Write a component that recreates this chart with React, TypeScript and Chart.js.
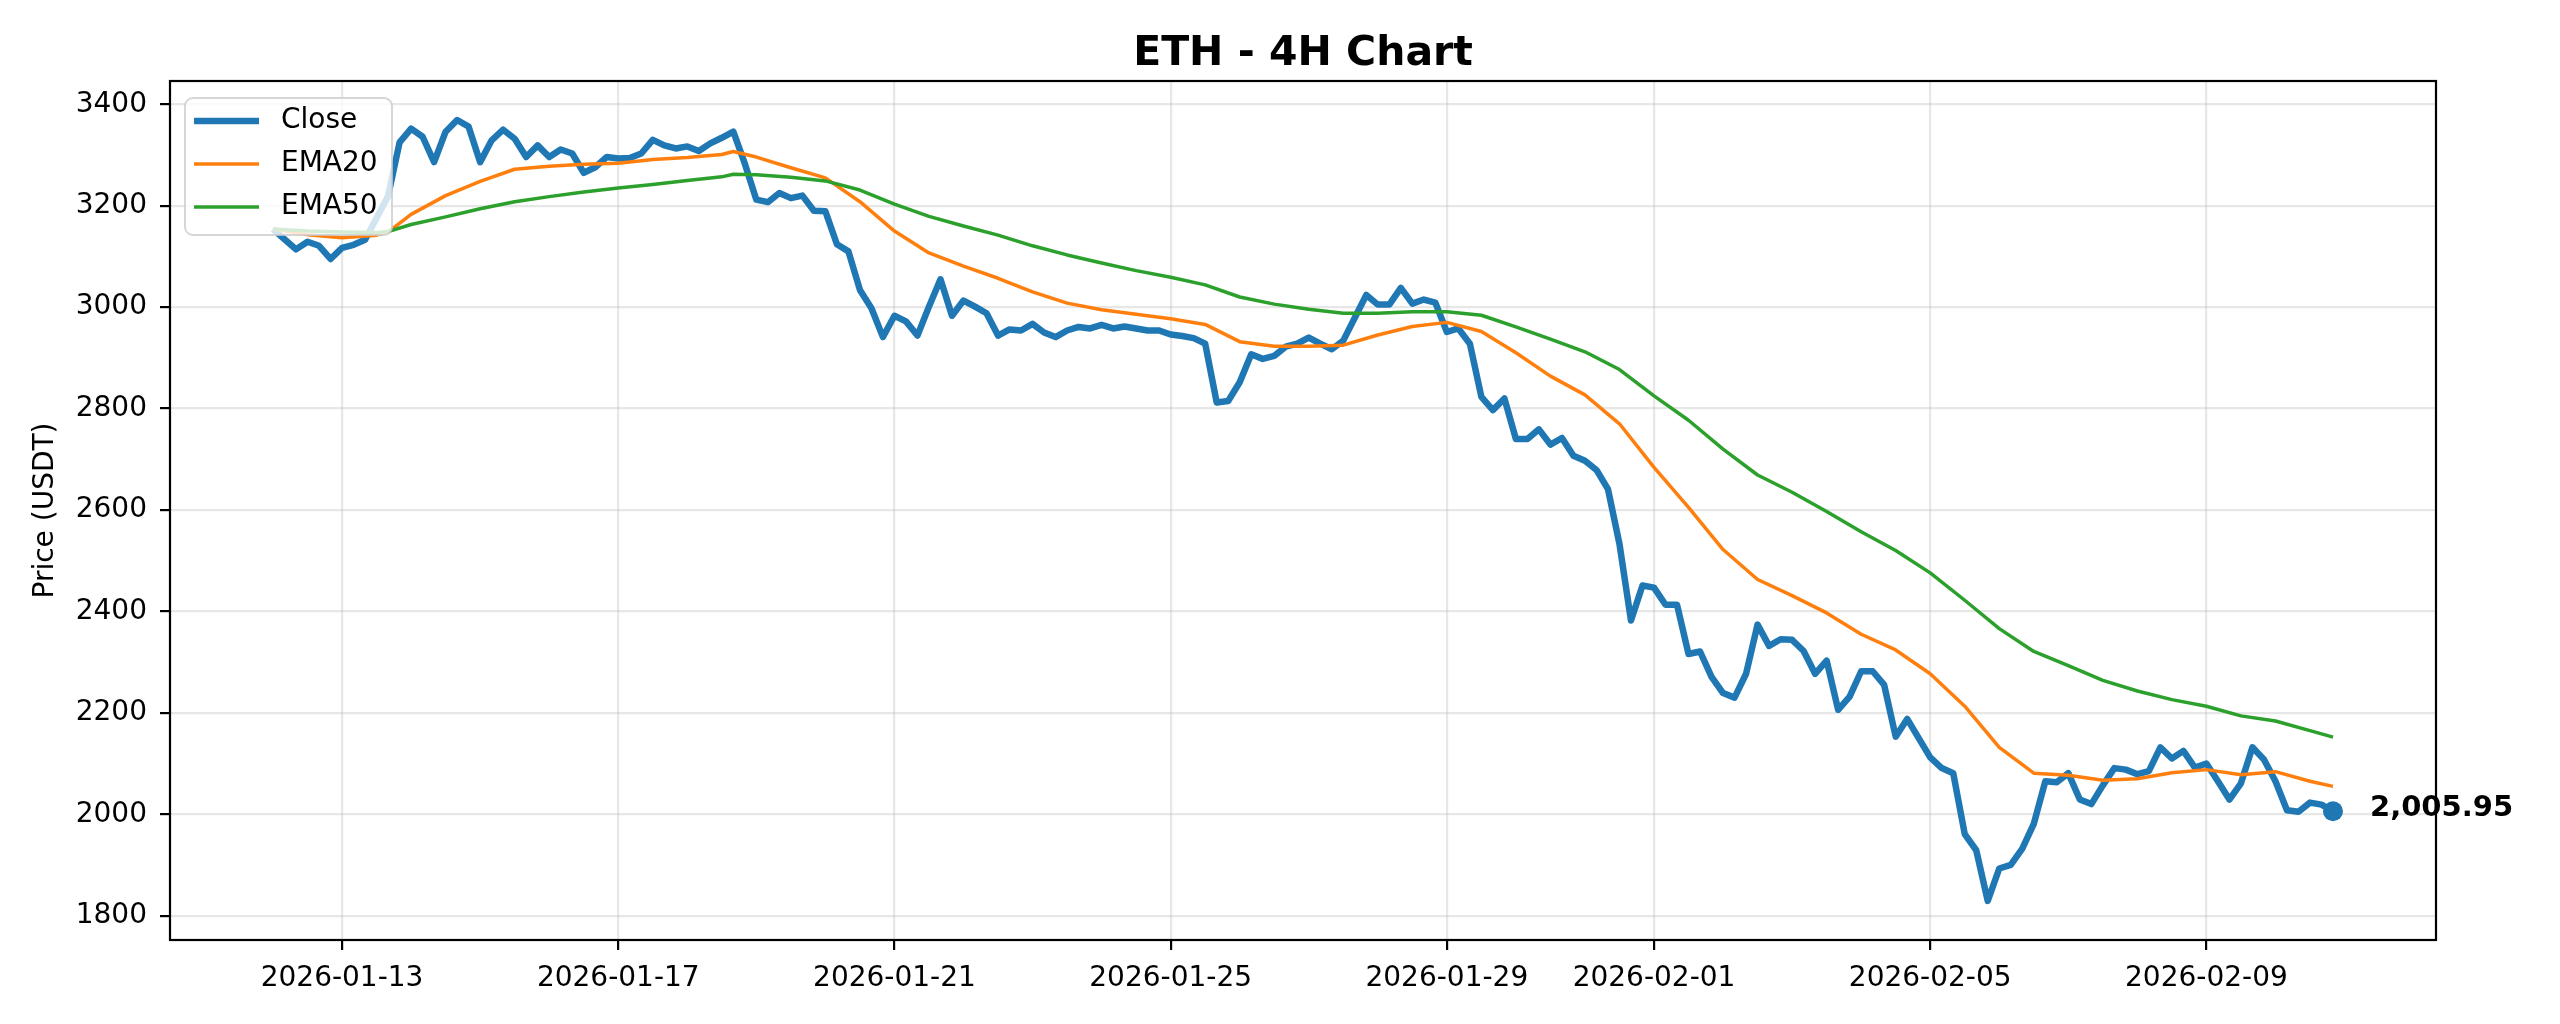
import { useRef, useEffect } from 'react';
import { Chart, registerables } from 'chart.js';

Chart.register(...registerables);

// 4H candles starting 2026-01-12 00:00
const startDate = '2026-01-12';
const stepHours = 4;

const closePrices = [
  3154, 3134, 3114, 3129, 3121, 3095, 3117, 3123, 3133, 3176,
  3219, 3325, 3352, 3336, 3286, 3346, 3369, 3356, 3286, 3329,
  3350, 3332, 3296, 3319, 3296, 3311, 3303, 3265, 3276, 3296,
  3293, 3294, 3303, 3330, 3319, 3313, 3317, 3308, 3323, 3334,
  3346, 3283, 3212, 3207, 3225, 3215, 3220, 3190, 3189, 3124,
  3110, 3034, 2998, 2941, 2983, 2972, 2944, 3001, 3055, 2983,
  3013, 3001, 2988, 2944, 2956, 2954, 2967, 2950, 2941, 2954,
  2961, 2958, 2965, 2958, 2962, 2958, 2954, 2954, 2946, 2943,
  2939, 2928, 2812, 2815, 2852, 2907, 2898, 2904, 2922, 2928,
  2940, 2928, 2917, 2934, 2979, 3024, 3005, 3005, 3038, 3007,
  3015, 3009, 2951, 2958, 2928, 2823, 2797, 2820, 2740, 2740,
  2759, 2729, 2742, 2707, 2697, 2679, 2641, 2533, 2382, 2451,
  2447, 2413, 2413, 2316, 2321, 2271, 2239, 2230, 2277, 2374,
  2332, 2345, 2344, 2322, 2277, 2303, 2206, 2232, 2282, 2282,
  2255, 2153, 2188, 2150, 2112, 2091, 2081, 1961, 1929, 1829,
  1893, 1900, 1932, 1981, 2065, 2063, 2081, 2029, 2020, 2057,
  2091, 2088, 2079, 2085, 2132, 2110, 2125, 2092, 2100, 2065,
  2029, 2061, 2132, 2108, 2065, 2008, 2005, 2023, 2019, 2005.95,
];

const emaIndex = [
  0, 3, 6, 9, 10, 12, 15, 18, 21, 24, 27, 30, 33, 36, 39, 40, 42, 45, 48, 51,
  54, 57, 60, 63, 66, 69, 72, 75, 78, 81, 84, 87, 90, 93, 96, 99, 102, 105, 108, 111,
  114, 117, 120, 123, 126, 129, 132, 135, 138, 141, 144, 147, 150, 153, 156, 159, 162, 165, 168, 171,
  174, 177, 179,
];

const ema20 = [
  3154, 3143, 3137, 3142, 3148, 3183, 3220, 3248, 3272, 3278, 3282, 3284, 3291, 3295, 3301, 3307, 3296, 3275, 3255, 3208,
  3150, 3107, 3081, 3057, 3030, 3008, 2995, 2986, 2977, 2966, 2932, 2923, 2923, 2925, 2945, 2962, 2970, 2952, 2910, 2864,
  2827, 2770, 2684, 2605, 2522, 2463, 2431, 2397, 2355, 2324, 2277, 2213, 2132, 2081, 2077, 2067, 2070, 2082, 2088, 2078,
  2084, 2065, 2055,
];

const ema50 = [
  3154, 3150, 3148, 3147, 3149, 3163, 3178, 3194, 3208, 3218, 3227, 3235, 3242, 3250, 3257, 3262, 3261, 3256, 3249, 3231,
  3203, 3179, 3160, 3142, 3121, 3103, 3087, 3072, 3059, 3044, 3020, 3006, 2996, 2988, 2988, 2991, 2991, 2984, 2961, 2937,
  2912, 2877, 2825, 2777, 2720, 2669, 2635, 2597, 2557, 2520, 2476, 2422, 2366, 2321, 2293, 2264, 2243, 2226, 2213, 2194,
  2184, 2165, 2152,
];

const xTickLabels = [
  '2026-01-13', '2026-01-17', '2026-01-21', '2026-01-25',
  '2026-01-29', '2026-02-01', '2026-02-05', '2026-02-09',
];
const yTickValues = [1800, 2000, 2200, 2400, 2600, 2800, 3000, 3200, 3400];

const FONT = '"DejaVu Sans", sans-serif';
const BLUE = '#1f77b4';
const ORANGE = '#ff7f0e';
const GREEN = '#2ca02c';
const GRID = 'rgba(176,176,176,0.3)';

const dayOf = (d: string) =>
  (Date.parse(d + 'T00:00:00Z') - Date.parse(startDate + 'T00:00:00Z')) / 86400000;
const xOf = (i: number) => (i * stepHours) / 24;

const App = () => {
  const canvasRef = useRef<HTMLCanvasElement>(null);
  const chartRef = useRef<any>(null);

  useEffect(() => {
    document.body.style.margin = '0';
    if (!canvasRef.current) return;
    if (chartRef.current) chartRef.current.destroy();

    const closePts = closePrices.map((y, i) => ({ x: xOf(i), y }));
    const ema20Pts = emaIndex.map((k, j) => ({ x: xOf(k), y: ema20[j] }));
    const ema50Pts = emaIndex.map((k, j) => ({ x: xOf(k), y: ema50[j] }));
    const last = closePts[closePts.length - 1];

    // matplotlib-style 5% margins
    const span = last.x;
    const lo = Math.min(...closePrices);
    const hi = Math.max(...closePrices);
    const yPad = (hi - lo) * 0.05;
    const xTickPos = xTickLabels.map(dayOf);

    const overlay = {
      id: 'overlay',
      afterDatasetsDraw(chart: any) {
        const { ctx, chartArea: a, scales } = chart;
        ctx.save();

        // frame
        ctx.strokeStyle = '#000';
        ctx.lineWidth = 2.2;
        ctx.strokeRect(a.left, a.top, a.right - a.left, a.bottom - a.top);

        // last price label
        const px = scales.x.getPixelForValue(last.x);
        const py = scales.y.getPixelForValue(last.y);
        ctx.fillStyle = '#000';
        ctx.font = `bold 29px ${FONT}`;
        ctx.textAlign = 'left';
        ctx.textBaseline = 'middle';
        ctx.fillText(
          last.y.toLocaleString('en-US', { minimumFractionDigits: 2, maximumFractionDigits: 2 }),
          px + 37, py - 3
        );

        // legend box, upper left
        const lx = a.left + 15;
        const ly = a.top + 17;
        ctx.beginPath();
        ctx.roundRect(lx, ly, 207, 137, 8);
        ctx.fillStyle = 'rgba(255,255,255,0.8)';
        ctx.fill();
        ctx.strokeStyle = 'rgba(204,204,204,0.8)';
        ctx.lineWidth = 2;
        ctx.stroke();
        const entries: [string, string, number][] = [
          ['Close', BLUE, 6.5],
          ['EMA20', ORANGE, 3.5],
          ['EMA50', GREEN, 3.5],
        ];
        entries.forEach(([label, color, w], k) => {
          const ry = ly + 23 + k * 43;
          ctx.beginPath();
          ctx.moveTo(lx + 9, ry);
          ctx.lineTo(lx + 74, ry);
          ctx.strokeStyle = color;
          ctx.lineWidth = w;
          ctx.stroke();
          ctx.fillStyle = '#000';
          ctx.font = `28px ${FONT}`;
          ctx.textAlign = 'left';
          ctx.textBaseline = 'middle';
          ctx.fillText(label, lx + 96, ry);
        });
        ctx.restore();
      },
      afterDraw(chart: any) {
        const { ctx, chartArea: a } = chart;
        ctx.save();
        ctx.fillStyle = '#000';
        ctx.font = `bold 41px ${FONT}`;
        ctx.textAlign = 'center';
        ctx.textBaseline = 'alphabetic';
        ctx.fillText('ETH - 4H Chart', (a.left + a.right) / 2, 65);

        ctx.translate(46, (a.top + a.bottom) / 2);
        ctx.rotate(-Math.PI / 2);
        ctx.font = `28px ${FONT}`;
        ctx.textBaseline = 'middle';
        ctx.fillText('Price (USDT)', 0, 0);
        ctx.restore();
      },
    };

    const lineDs = (label: string, data: any[], color: string, width: number, order: number) => ({
      type: 'line',
      label,
      data,
      borderColor: color,
      backgroundColor: color,
      borderWidth: width,
      borderJoinStyle: 'round',
      pointRadius: 0,
      tension: 0,
      fill: false,
      order,
    });

    chartRef.current = new Chart(canvasRef.current, {
      type: 'line',
      data: {
        datasets: [
          lineDs('Close', closePts, BLUE, 6.5, 3),
          lineDs('EMA20', ema20Pts, ORANGE, 3.5, 2),
          lineDs('EMA50', ema50Pts, GREEN, 3.5, 1),
          {
            type: 'scatter',
            label: 'Last',
            data: [last],
            backgroundColor: BLUE,
            borderWidth: 0,
            pointRadius: 10,
            order: 0,
          },
        ] as any,
      },
      options: {
        responsive: false,
        animation: false,
        layout: { padding: { top: 81, right: 124, bottom: 0, left: 0 } },
        plugins: {
          legend: { display: false },
          title: { display: false },
          tooltip: { enabled: false },
        },
        scales: {
          x: {
            type: 'linear',
            position: 'bottom',
            min: -span * 0.05,
            max: span * 1.05,
            afterBuildTicks: (s: any) => { s.ticks = xTickPos.map((v) => ({ value: v })); },
            afterFit: (s: any) => { s.height = 84; },
            ticks: {
              autoSkip: false,
              maxRotation: 0,
              padding: 12,
              color: '#000',
              font: { family: FONT, size: 28 },
              callback: (v: any) => xTickLabels[xTickPos.indexOf(Number(v))] ?? '',
            },
            grid: { color: GRID, lineWidth: 2.2, tickColor: '#000', tickWidth: 2.2, tickLength: 10 },
            border: { display: false },
          },
          y: {
            type: 'linear',
            min: lo - yPad,
            max: hi + yPad,
            afterBuildTicks: (s: any) => { s.ticks = yTickValues.map((v) => ({ value: v })); },
            afterFit: (s: any) => { s.width = 170; },
            ticks: {
              padding: 13,
              color: '#000',
              font: { family: FONT, size: 28 },
              callback: (v: any) => String(v),
            },
            grid: { color: GRID, lineWidth: 2.2, tickColor: '#000', tickWidth: 2.2, tickLength: 10 },
            border: { display: false },
          },
        },
      } as any,
      plugins: [overlay],
    } as any);

    return () => { if (chartRef.current) chartRef.current.destroy(); };
  }, []);

  return (
    <div style={{ position: 'fixed', left: 0, top: 0, width: 2560, height: 1024, background: '#fff' }}>
      <canvas ref={canvasRef} width={2560} height={1024}></canvas>
    </div>
  );
};

export default App;
